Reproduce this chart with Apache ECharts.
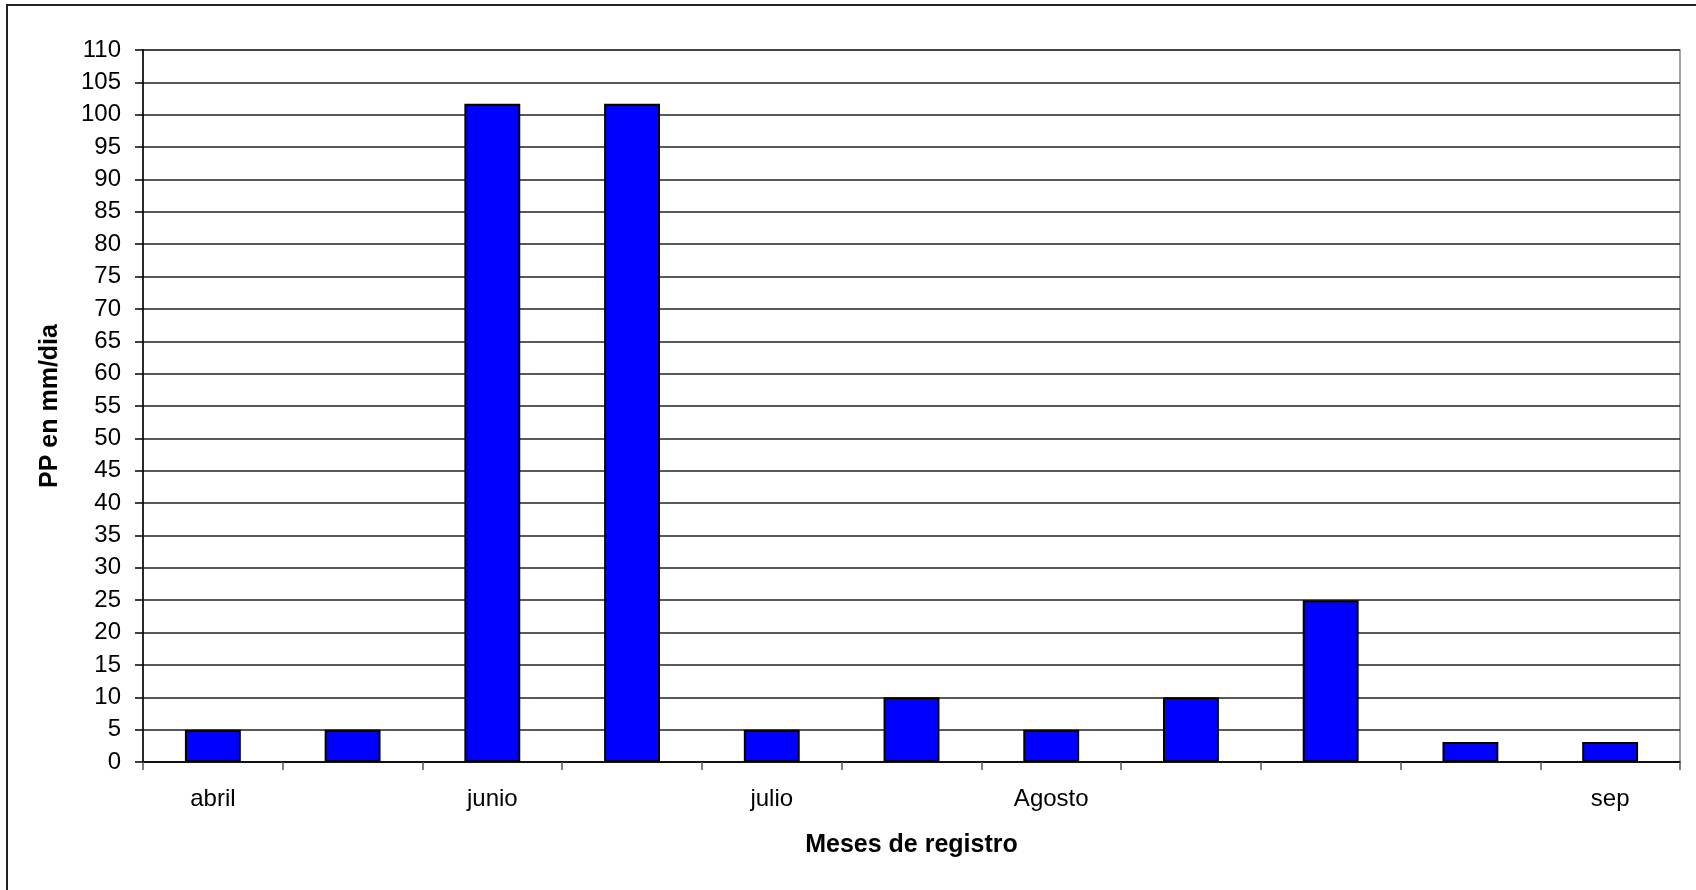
<!DOCTYPE html>
<html>
<head>
<meta charset="utf-8">
<script src="https://cdn.jsdelivr.net/npm/echarts@6/dist/echarts.min.js"></script>
<style>
html,body{margin:0;padding:0;background:#fff;}
#chart{width:1696px;height:890px;}
</style>
</head>
<body>
<div id="chart"></div>
<script>
const categories = ['abril', '', 'junio', '', 'julio', '', 'Agosto', '', '', '', 'sep'];
const values = [5, 5, 101.7, 101.7, 5, 10, 5, 10, 25, 3.1, 3.1];
const yTitle = 'PP en mm/dia';
const xTitle = 'Meses de registro';

const chart = echarts.init(document.getElementById('chart'), null, {renderer: 'canvas'});
const font = '"Liberation Sans", Arial, sans-serif';
chart.setOption({
  animation: false,
  backgroundColor: '#ffffff',
  graphic: [{
    type: 'rect',
    shape: {x: 7, y: 5, width: 1720, height: 920},
    style: {fill: 'none', stroke: '#222', lineWidth: 2},
    silent: true
  }],
  grid: {left: 143, right: 16, top: 50, bottom: 128, show: true, borderColor: '#888', borderWidth: 1.5, backgroundColor: 'transparent'},
  xAxis: {
    type: 'category',
    data: categories,
    boundaryGap: true,
    name: xTitle,
    nameLocation: 'middle',
    nameGap: 71,
    nameTextStyle: {fontFamily: font, fontSize: 25, fontWeight: 'bold', color: '#000'},
    axisLine: {show: true, lineStyle: {color: '#000', width: 1.5}},
    axisTick: {show: true, length: 8, alignWithLabel: false, lineStyle: {color: '#555', width: 1.5}},
    axisLabel: {interval: 0, margin: 25, fontFamily: font, fontSize: 24, color: '#000'},
    splitLine: {show: false}
  },
  yAxis: {
    type: 'value',
    min: 0, max: 110, interval: 5,
    name: yTitle,
    nameLocation: 'middle',
    nameGap: 80,
    nameRotate: 90,
    nameTextStyle: {fontFamily: font, fontSize: 25, fontWeight: 'bold', color: '#000'},
    axisLine: {show: true, lineStyle: {color: '#000', width: 1.5}},
    axisTick: {show: true, length: 8, inside: false, lineStyle: {color: '#000', width: 1.5}},
    axisLabel: {margin: 22, fontFamily: font, fontSize: 24, color: '#000'},
    splitLine: {show: true, lineStyle: {color: '#222', width: 1.5}}
  },
  series: [{
    type: 'bar',
    data: values,
    barWidth: '40%',
    itemStyle: {color: '#0000FF', borderColor: '#000', borderWidth: 2}
  }]
});
</script>
</body>
</html>
